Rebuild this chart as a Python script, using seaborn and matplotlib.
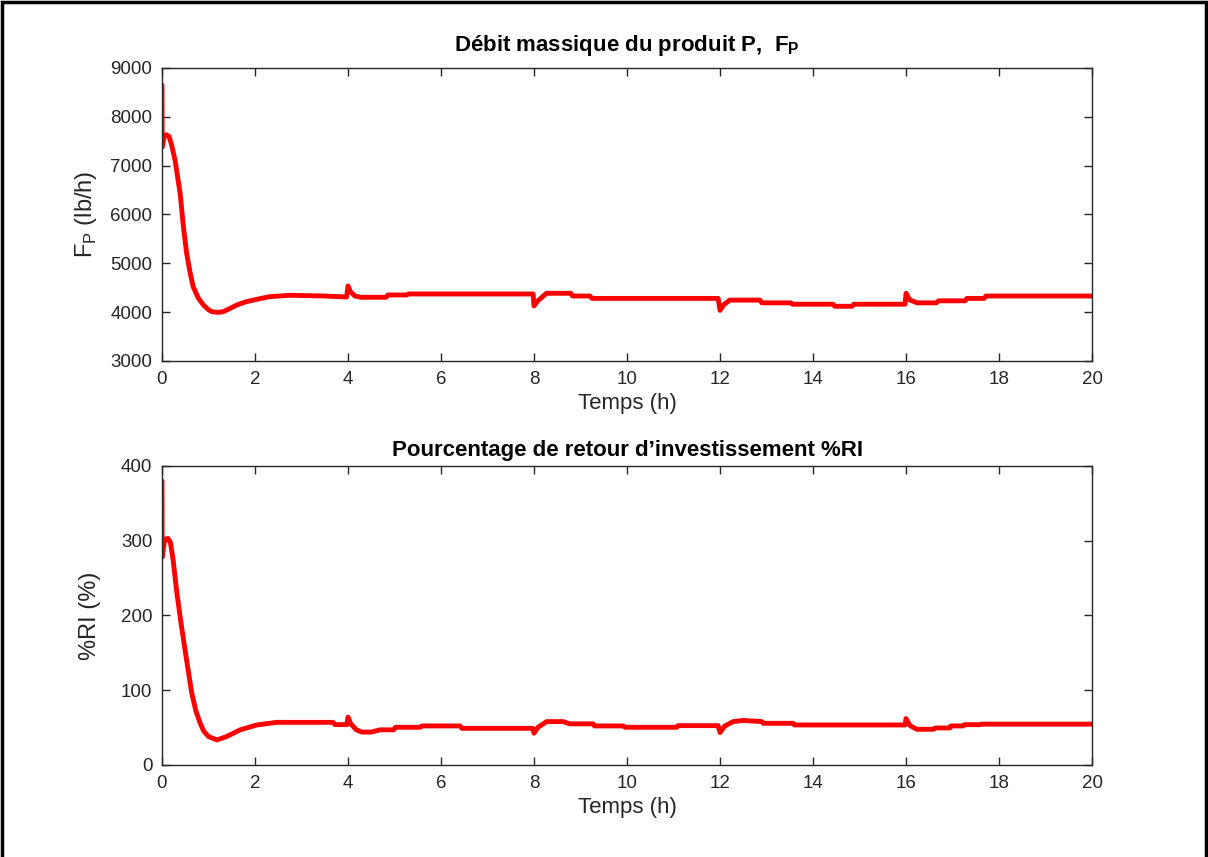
import matplotlib
matplotlib.use("Agg")
import matplotlib.pyplot as plt
from matplotlib.patches import Rectangle
import seaborn as sns

# Debit massique du produit P (lb/h) vs temps (h)
t_fp = [0, 0.005, 0.02, 0.05, 0.1, 0.15, 0.2, 0.28, 0.39, 0.46, 0.53, 0.6, 0.67,
        0.78, 0.89, 1.0, 1.07, 1.2, 1.32, 1.45, 1.61, 1.8, 2.04, 2.32, 2.75, 3.47,
        3.97, 4.0, 4.05, 4.15, 4.28, 4.82, 4.86, 5.26, 5.3, 7.98, 8.0, 8.08, 8.27,
        8.79, 8.83, 9.2, 9.25, 11.96, 12.0, 12.08, 12.21, 12.86, 12.9, 13.52, 13.56,
        14.43, 14.47, 14.84, 14.88, 15.98, 16.0, 16.08, 16.24, 16.65, 16.7, 17.27,
        17.31, 17.68, 17.72, 20.0]
fp = [8650, 7380, 7450, 7620, 7630, 7600, 7450, 7116, 6434, 5750, 5205, 4830, 4521,
      4290, 4146, 4050, 4010, 3995, 4010, 4070, 4146, 4210, 4263, 4317, 4345, 4331,
      4310, 4536, 4420, 4330, 4304, 4304, 4351, 4351, 4372, 4372, 4126, 4230, 4386,
      4386, 4330, 4330, 4281, 4281, 4036, 4150, 4246, 4246, 4190, 4190, 4162,
      4162, 4120, 4120, 4162, 4162, 4386, 4250, 4190, 4190, 4232, 4232,
      4281, 4281, 4330, 4330]

# Pourcentage de retour d'investissement (%) vs temps (h)
t_ri = [0, 0.005, 0.03, 0.06, 0.13, 0.18, 0.24, 0.32, 0.42, 0.53, 0.64, 0.73, 0.82,
        0.9, 1.0, 1.18, 1.39, 1.68, 2.04, 2.47, 3.68, 3.72, 3.98, 4.0, 4.06, 4.18,
        4.3, 4.5, 4.69, 4.98, 5.02, 5.55, 5.59, 6.41, 6.45, 7.97, 8.0, 8.08, 8.27,
        8.63, 8.77, 9.27, 9.3, 9.92, 9.96, 11.07, 11.1, 11.96, 12.0, 12.1, 12.28,
        12.5, 12.9, 12.93, 13.57, 13.6, 15.98, 16.0, 16.08, 16.23, 16.59, 16.63,
        16.94, 16.97, 17.23, 17.26, 17.59, 17.62, 20.0]
ri = [380, 278, 290, 302, 303, 298, 274, 230, 185, 140, 96, 72, 56,
      45, 38, 33.5, 38, 47, 53.5, 57, 57, 54, 54, 64, 55, 47,
      44, 44, 47, 47, 50.4, 50.4, 52.2, 52.2, 49, 49, 42.4, 50, 58,
      58, 55, 55, 52.2, 52.2, 50.4, 50.4, 52.6, 52.6, 43.3, 52, 58,
      59.5, 58, 55.7, 55.7, 53.5, 53.5, 62, 53, 47.7, 47.7, 49.5,
      49.5, 52.2, 52.2, 53.9, 53.9, 54.6, 54.6]

xticks = list(range(0, 21, 2))
fp_ticks = [3000, 4000, 5000, 6000, 7000, 8000, 9000]
ri_ticks = [0, 100, 200, 300, 400]

sns.set_theme(style="ticks")
plt.rcParams['font.family'] = ['Liberation Sans', 'DejaVu Sans']
plt.rcParams['mathtext.fontset'] = 'custom'
plt.rcParams['mathtext.rm'] = 'Liberation Sans'
plt.rcParams['mathtext.bf'] = 'Liberation Sans:bold'

grey = '#262626'
fig = plt.figure(figsize=(12.08, 8.57), dpi=100)
ax1 = fig.add_axes([0.1341, 0.5788, 0.7699, 0.3419])
ax2 = fig.add_axes([0.1341, 0.1074, 0.7699, 0.3489])

sns.lineplot(x=t_fp, y=fp, ax=ax1, color='red', linewidth=3.5, estimator=None, sort=False)
sns.lineplot(x=t_ri, y=ri, ax=ax2, color='red', linewidth=3.5, estimator=None, sort=False)

ax1.set_ylim(3000, 9000)
ax1.set_yticks(fp_ticks)
ax2.set_ylim(0, 400)
ax2.set_yticks(ri_ticks)

for ax in (ax1, ax2):
    ax.set_xlim(0, 20)
    ax.set_xticks(xticks)
    ax.tick_params(direction='in', top=True, right=True, length=6, width=1,
                   colors=grey, labelsize=13.5, pad=7)
    for s in ax.spines.values():
        s.set_color(grey)
        s.set_linewidth(1)
    ax.set_xlabel('Temps (h)', fontsize=16, color=grey, labelpad=4)

ax1.set_title(r'Débit massique du produit P,  F$_{\mathbf{P}}$', fontsize=16,
              fontweight='bold', color='black', pad=12)
ax2.set_title('Pourcentage de retour d\u2019investissement %RI', fontsize=16,
              fontweight='bold', color='black', pad=7)
ax1.set_ylabel(r'F$_\mathrm{P}$ (lb/h)', fontsize=17, color=grey, labelpad=8)
ax2.set_ylabel('%RI (%)', fontsize=17, color=grey, labelpad=14)

fig.add_artist(Rectangle((0.002, -0.05), 0.996, 1.048, transform=fig.transFigure,
                         fill=False, linewidth=2.5, edgecolor='black'))

plt.savefig('out.png', dpi=100)
